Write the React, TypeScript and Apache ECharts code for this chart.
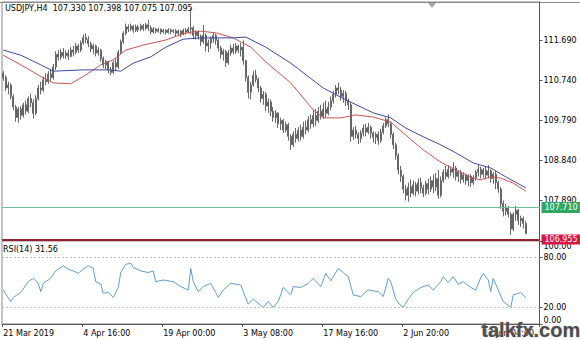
import React, { useEffect, useRef } from "react";
import * as echarts from "echarts";

// ---------- data ----------
const symbol = "USDJPY";
const timeframe = "H4";
const slotCount = 215; // bar slots on the time axis (last ones empty: chart shift)
const timeTickIndex = [0, 32, 64, 96, 128, 160, 192];
const timeTickLabels = [
  "21 Mar 2019",
  "4 Apr 16:00",
  "19 Apr 00:00",
  "3 May 08:00",
  "17 May 16:00",
  "2 Jun 20:00",
  "17 Jun 04:00",
];
const priceTicks = [111.69, 110.74, 109.79, 108.84, 107.89];
const priceLevels = [107.71, 106.955]; // [bid line, stop level]
const rsiTicks = [100, 80, 20, 0];
const rsiLevels = [80, 20];

// [open, close, low, high]
const candles: number[][] = [
  [110.90, 110.80, 110.72, 110.95],
  [110.80, 110.55, 110.48, 110.85],
  [110.55, 110.62, 110.40, 110.70],
  [110.62, 110.35, 110.28, 110.66],
  [110.35, 110.10, 110.02, 110.40],
  [110.10, 109.85, 109.75, 110.15],
  [109.85, 110.05, 109.72, 110.10],
  [110.05, 109.90, 109.80, 110.12],
  [109.90, 110.15, 109.85, 110.20],
  [110.15, 110.00, 109.92, 110.25],
  [110.00, 110.30, 109.95, 110.35],
  [110.30, 110.20, 110.10, 110.42],
  [110.20, 109.95, 109.82, 110.28],
  [109.95, 110.30, 109.90, 110.38],
  [110.30, 110.55, 110.25, 110.62],
  [110.55, 110.50, 110.40, 110.70],
  [110.50, 110.75, 110.45, 110.82],
  [110.75, 110.70, 110.62, 110.90],
  [110.70, 110.88, 110.65, 110.95],
  [110.88, 110.80, 110.72, 111.00],
  [110.80, 111.05, 110.75, 111.12],
  [111.05, 111.35, 110.98, 111.42],
  [111.35, 111.28, 111.20, 111.45],
  [111.28, 111.40, 111.22, 111.48],
  [111.40, 111.32, 111.25, 111.50],
  [111.32, 111.38, 111.24, 111.44],
  [111.38, 111.30, 111.22, 111.46],
  [111.30, 111.45, 111.28, 111.52],
  [111.45, 111.40, 111.30, 111.55],
  [111.40, 111.55, 111.35, 111.62],
  [111.55, 111.45, 111.38, 111.60],
  [111.45, 111.62, 111.40, 111.68],
  [111.62, 111.75, 111.58, 111.82],
  [111.75, 111.70, 111.62, 111.85],
  [111.70, 111.60, 111.52, 111.78],
  [111.60, 111.48, 111.40, 111.65],
  [111.48, 111.55, 111.35, 111.60],
  [111.55, 111.38, 111.30, 111.58],
  [111.38, 111.45, 111.32, 111.52],
  [111.45, 111.25, 111.18, 111.48],
  [111.25, 111.10, 111.02, 111.30],
  [111.10, 111.18, 111.00, 111.22],
  [111.18, 110.98, 110.90, 111.20],
  [110.98, 110.92, 110.85, 111.05],
  [110.92, 111.15, 110.88, 111.20],
  [111.15, 111.05, 110.95, 111.25],
  [111.05, 111.40, 111.00, 111.45],
  [111.40, 111.65, 111.35, 111.70],
  [111.65, 111.85, 111.60, 111.90],
  [111.85, 112.00, 111.80, 112.08],
  [112.00, 111.95, 111.88, 112.06],
  [111.95, 112.02, 111.90, 112.08],
  [112.02, 111.92, 111.86, 112.05],
  [111.92, 112.00, 111.88, 112.06],
  [112.00, 111.94, 111.88, 112.05],
  [111.94, 112.03, 111.90, 112.08],
  [112.03, 111.96, 111.90, 112.07],
  [111.96, 112.05, 111.92, 112.10],
  [112.05, 111.98, 111.90, 112.17],
  [111.98, 111.88, 111.82, 112.04],
  [111.88, 111.95, 111.84, 112.00],
  [111.95, 111.90, 111.84, 111.98],
  [111.90, 111.94, 111.86, 111.98],
  [111.94, 111.88, 111.82, 111.97],
  [111.88, 111.92, 111.84, 111.96],
  [111.92, 111.87, 111.82, 111.95],
  [111.87, 111.93, 111.84, 111.97],
  [111.93, 111.89, 111.83, 111.96],
  [111.89, 111.91, 111.85, 111.95],
  [111.91, 111.85, 111.78, 111.95],
  [111.85, 111.90, 111.78, 111.94],
  [111.90, 111.83, 111.76, 111.93],
  [111.83, 111.92, 111.80, 111.96],
  [111.92, 111.88, 111.82, 111.98],
  [111.88, 111.95, 111.84, 112.00],
  [111.95, 111.98, 111.82, 112.45],
  [111.98, 111.80, 111.72, 112.02],
  [111.80, 111.88, 111.70, 111.92],
  [111.88, 111.78, 111.70, 111.92],
  [111.78, 111.65, 111.55, 111.82],
  [111.65, 111.80, 111.60, 112.05],
  [111.80, 111.55, 111.42, 111.85],
  [111.55, 111.62, 111.40, 111.70],
  [111.62, 111.72, 111.48, 111.78],
  [111.72, 111.80, 111.62, 111.86],
  [111.80, 111.68, 111.58, 111.84],
  [111.68, 111.50, 111.42, 111.72],
  [111.50, 111.35, 111.25, 111.55],
  [111.35, 111.42, 111.20, 111.48],
  [111.42, 111.15, 111.05, 111.45],
  [111.15, 111.38, 111.10, 111.45],
  [111.38, 111.50, 111.32, 111.58],
  [111.50, 111.42, 111.35, 111.60],
  [111.42, 111.55, 111.36, 111.62],
  [111.55, 111.45, 111.38, 111.58],
  [111.45, 111.52, 111.30, 111.62],
  [111.52, 111.20, 111.10, 111.68],
  [111.20, 110.80, 110.70, 111.22],
  [110.80, 110.45, 110.30, 110.85],
  [110.45, 110.62, 110.28, 110.70],
  [110.62, 110.85, 110.58, 110.95],
  [110.85, 110.75, 110.68, 110.98],
  [110.75, 110.55, 110.45, 110.80],
  [110.55, 110.30, 110.20, 110.60],
  [110.30, 110.40, 110.15, 110.48],
  [110.40, 110.12, 110.00, 110.45],
  [110.12, 110.22, 109.96, 110.30],
  [110.22, 110.00, 109.88, 110.28],
  [110.00, 109.85, 109.75, 110.10],
  [109.85, 109.95, 109.72, 110.02],
  [109.95, 109.70, 109.60, 109.98],
  [109.70, 109.78, 109.55, 109.85],
  [109.78, 109.55, 109.48, 109.82],
  [109.55, 109.68, 109.50, 109.75],
  [109.68, 109.40, 109.30, 109.72],
  [109.40, 109.20, 109.08, 109.45],
  [109.20, 109.45, 109.15, 109.52],
  [109.45, 109.35, 109.25, 109.60],
  [109.35, 109.55, 109.28, 109.62],
  [109.55, 109.40, 109.30, 109.68],
  [109.40, 109.62, 109.35, 109.75],
  [109.62, 109.55, 109.45, 109.78],
  [109.55, 109.80, 109.50, 109.88],
  [109.80, 109.70, 109.58, 109.92],
  [109.70, 109.90, 109.62, 110.02],
  [109.90, 109.78, 109.65, 110.05],
  [109.78, 110.00, 109.72, 110.10],
  [110.00, 109.88, 109.80, 110.15],
  [109.88, 110.05, 109.82, 110.20],
  [110.05, 109.95, 109.85, 110.25],
  [109.95, 110.10, 109.90, 110.22],
  [110.10, 110.25, 110.02, 110.35],
  [110.25, 110.40, 110.18, 110.48],
  [110.40, 110.55, 110.32, 110.62],
  [110.55, 110.50, 110.40, 110.68],
  [110.50, 110.35, 110.25, 110.58],
  [110.35, 110.42, 110.20, 110.50],
  [110.42, 110.25, 110.12, 110.48],
  [110.25, 110.15, 110.03, 110.30],
  [110.15, 109.40, 109.27, 110.20],
  [109.40, 109.55, 109.32, 109.62],
  [109.55, 109.45, 109.35, 109.65],
  [109.45, 109.35, 109.22, 109.50],
  [109.35, 109.48, 109.25, 109.55],
  [109.48, 109.60, 109.40, 109.68],
  [109.60, 109.50, 109.40, 109.70],
  [109.50, 109.62, 109.45, 109.72],
  [109.62, 109.48, 109.35, 109.66],
  [109.48, 109.38, 109.25, 109.52],
  [109.38, 109.45, 109.22, 109.50],
  [109.45, 109.30, 109.20, 109.52],
  [109.30, 109.50, 109.25, 109.58],
  [109.50, 109.65, 109.45, 109.72],
  [109.65, 109.80, 109.60, 109.85],
  [109.80, 109.70, 109.62, 109.92],
  [109.70, 109.45, 109.35, 109.75],
  [109.45, 109.20, 109.10, 109.50],
  [109.20, 108.95, 108.85, 109.25],
  [108.95, 108.60, 108.50, 109.00],
  [108.60, 108.45, 108.32, 108.70],
  [108.45, 108.15, 108.05, 108.50],
  [108.15, 108.00, 107.88, 108.25],
  [108.00, 108.20, 107.85, 108.30],
  [108.20, 108.05, 107.95, 108.38],
  [108.05, 108.25, 108.00, 108.35],
  [108.25, 108.10, 107.98, 108.32],
  [108.10, 108.30, 108.02, 108.40],
  [108.30, 108.18, 108.05, 108.42],
  [108.18, 108.05, 107.96, 108.25],
  [108.05, 108.28, 108.00, 108.35],
  [108.28, 108.15, 108.02, 108.40],
  [108.15, 108.35, 108.08, 108.45],
  [108.35, 108.20, 108.05, 108.50],
  [108.20, 108.40, 108.10, 108.53],
  [108.40, 108.00, 107.92, 108.60],
  [108.00, 108.35, 107.95, 108.45],
  [108.35, 108.55, 108.30, 108.62],
  [108.55, 108.45, 108.38, 108.70],
  [108.45, 108.62, 108.40, 108.72],
  [108.62, 108.55, 108.45, 108.68],
  [108.55, 108.65, 108.42, 108.79],
  [108.65, 108.45, 108.35, 108.70],
  [108.45, 108.55, 108.32, 108.60],
  [108.55, 108.38, 108.28, 108.60],
  [108.38, 108.48, 108.30, 108.55],
  [108.48, 108.35, 108.25, 108.52],
  [108.35, 108.45, 108.22, 108.50],
  [108.45, 108.30, 108.20, 108.50],
  [108.30, 108.42, 108.25, 108.48],
  [108.42, 108.55, 108.35, 108.60],
  [108.55, 108.62, 108.45, 108.72],
  [108.62, 108.50, 108.40, 108.68],
  [108.50, 108.60, 108.42, 108.65],
  [108.60, 108.48, 108.38, 108.70],
  [108.48, 108.58, 108.40, 108.72],
  [108.58, 108.40, 108.30, 108.62],
  [108.40, 108.50, 108.28, 108.55],
  [108.50, 108.30, 108.15, 108.58],
  [108.30, 108.15, 108.06, 108.35],
  [108.15, 107.80, 107.68, 108.20],
  [107.80, 107.62, 107.50, 107.88],
  [107.62, 107.72, 107.52, 107.80],
  [107.72, 107.55, 107.48, 107.75],
  [107.55, 107.20, 107.06, 107.60],
  [107.20, 107.55, 107.15, 107.60],
  [107.55, 107.65, 107.40, 107.75],
  [107.65, 107.40, 107.30, 107.68],
  [107.40, 107.45, 107.25, 107.52],
  [107.45, 107.33, 107.22, 107.50],
  [107.33, 107.095, 107.075, 107.398],
];

// moving averages read at sample bars: [barIndex, value]
const maFast: number[][] = [
  [0, 111.33], [7, 111.10], [16, 110.79], [20, 110.67], [27, 110.65], [33, 110.86],
  [39, 111.10], [44, 111.22], [49, 111.45], [56, 111.57], [65, 111.69], [73, 111.86],
  [79, 111.90], [85, 111.86], [92, 111.74], [99, 111.52], [105, 111.17], [115, 110.67],
  [124, 110.03], [128, 109.84], [135, 109.84], [141, 109.91], [148, 109.86], [155, 109.74],
  [161, 109.43], [168, 109.08], [175, 108.79], [181, 108.60], [188, 108.41], [191, 108.37],
  [195, 108.44], [199, 108.41], [204, 108.29], [209, 108.10],
];
const maSlow: number[][] = [
  [0, 111.45], [7, 111.33], [15, 111.10], [20, 110.95], [32, 110.98], [43, 110.98],
  [47, 110.95], [52, 111.14], [59, 111.29], [65, 111.52], [72, 111.71], [79, 111.74],
  [92, 111.74], [97, 111.76], [105, 111.52], [115, 111.14], [128, 110.55], [137, 110.27],
  [148, 109.96], [155, 109.84], [161, 109.60], [168, 109.39], [175, 109.20], [181, 109.01],
  [188, 108.77], [195, 108.65], [201, 108.44], [209, 108.18],
];
// RSI(14) read at sample bars: [barIndex, value]
const rsi: number[][] = [
  [0, 41], [3, 27], [4, 32], [7, 38], [10, 51], [12, 55], [14, 49], [15, 39], [16, 49],
  [19, 55], [21, 64], [24, 70], [26, 66], [28, 64], [30, 61], [32, 66], [34, 70], [36, 67],
  [37, 51], [39, 48], [40, 37], [42, 38], [44, 32], [46, 44], [47, 62], [49, 72], [51, 73],
  [52, 68], [55, 64], [58, 62], [60, 64], [61, 51], [64, 53], [68, 51], [71, 45], [74, 41],
  [75, 67], [76, 51], [78, 39], [80, 45], [83, 49], [85, 38], [86, 32], [88, 41], [91, 49],
  [95, 47], [96, 39], [98, 24], [100, 30], [104, 20], [106, 27], [108, 20], [110, 27],
  [112, 44], [115, 35], [116, 45], [119, 44], [122, 49], [124, 55], [127, 45], [129, 61],
  [131, 52], [134, 67], [136, 62], [138, 57], [140, 35], [143, 33], [146, 41], [150, 39],
  [152, 33], [154, 55], [155, 51], [157, 30], [159, 22], [160, 20], [162, 30], [164, 38],
  [167, 44], [170, 47], [172, 41], [175, 51], [176, 57], [178, 50], [180, 57], [182, 48],
  [184, 51], [187, 44], [189, 41], [191, 56], [192, 61], [194, 53], [195, 39], [196, 55],
  [198, 41], [200, 27], [203, 20], [204, 35], [207, 38], [209, 31.56],
];

// ---------- chart ----------
const FONT = "DejaVu Sans";

export default function App() {
  const ref = useRef<HTMLDivElement>(null);

  useEffect(() => {
    if (!ref.current) return;
    const chart = echarts.init(ref.current, null, { renderer: "svg" });

    const categories = Array.from({ length: slotCount }, (_, i) => {
      const k = timeTickIndex.indexOf(i);
      return k >= 0 ? timeTickLabels[k] : "b" + i;
    });
    const isTick = (i: number) => timeTickIndex.indexOf(i) >= 0;
    const last = candles[candles.length - 1];
    const lastLabel = [last[0], last[3], last[2], last[1]].map((v) => v.toFixed(3)).join(" ");
    const lastRsi = rsi[rsi.length - 1][1];
    const rsiMax = Math.max(...rsiTicks);
    const rsiMin = Math.min(...rsiTicks);

    const option: any = {
      animation: false,
      backgroundColor: "#ffffff",
      textStyle: { fontFamily: FONT },
      grid: [
        { left: 2, right: 40.5, top: 2, height: 238, show: true, borderColor: "#8a8a8a", borderWidth: 1 },
        { left: 2, right: 40.5, top: 241, height: 83, show: true, borderColor: "#8a8a8a", borderWidth: 1 },
      ],
      xAxis: [
        {
          type: "category", gridIndex: 0, data: categories,
          axisLine: { show: false }, axisTick: { show: false }, axisLabel: { show: false },
          splitLine: { show: false },
        },
        {
          type: "category", gridIndex: 1, data: categories,
          axisLine: { show: true, lineStyle: { color: "#555555" } },
          axisTick: { show: true, length: 3, interval: (i: number) => isTick(i), lineStyle: { color: "#555555" } },
          axisLabel: {
            interval: (i: number) => isTick(i),
            formatter: (v: string) => v,
            align: "left", color: "#000000", fontSize: 8, fontFamily: FONT, margin: 5,
          },
          splitLine: { show: false },
        },
      ],
      yAxis: [
        {
          type: "value", gridIndex: 0, position: "right", min: 106.94, max: 112.5925,
          splitLine: { show: false },
          axisLine: { show: true, lineStyle: { color: "#555555" } },
          axisTick: { show: true, length: 3, customValues: priceTicks, lineStyle: { color: "#555555" } },
          axisLabel: {
            customValues: priceTicks, formatter: (v: number) => v.toFixed(3),
            color: "#000000", fontSize: 8, fontFamily: FONT, margin: 4,
          },
        },
        {
          type: "value", gridIndex: 1, position: "right", min: rsiMin, max: rsiMax,
          splitLine: { show: false },
          axisLine: { show: true, lineStyle: { color: "#555555" } },
          axisTick: { show: true, length: 3, customValues: rsiTicks, lineStyle: { color: "#555555" } },
          axisLabel: {
            customValues: rsiTicks, showMinLabel: true, showMaxLabel: true,
            formatter: (v: number) =>
              v === rsiMax ? `{top|${v.toFixed(2)}}` : v === rsiMin ? `{bot|${v.toFixed(2)}}` : v.toFixed(2),
            rich: {
              top: { padding: [11, 0, 0, 0], fontSize: 8, fontFamily: FONT, color: "#000000" },
              bot: { padding: [0, 0, 8, 0], fontSize: 8, fontFamily: FONT, color: "#000000" },
            },
            color: "#000000", fontSize: 8, fontFamily: FONT, margin: 4,
          },
        },
      ],
      series: [
        {
          type: "candlestick", xAxisIndex: 0, yAxisIndex: 0, data: candles,
          barWidth: 1.6, z: 2,
          itemStyle: { color: "#6c6c6c", color0: "#6c6c6c", borderColor: "#666666", borderColor0: "#666666", borderWidth: 1 },
          markLine: {
            silent: true, symbol: "none", animation: false, z: 5,
            data: [
              {
                yAxis: priceLevels[0],
                lineStyle: { color: "#6cc295", width: 1, type: "solid" },
                label: {
                  show: true, position: "end", distance: 2, formatter: () => priceLevels[0].toFixed(3),
                  color: "#ffffff", backgroundColor: "#2ea862", padding: [2, 3, 1, 3],
                  fontSize: 8, fontFamily: FONT,
                },
              },
              {
                yAxis: priceLevels[1],
                lineStyle: { color: "#9a1f30", width: 2, type: "solid" },
                label: {
                  show: true, position: "end", distance: 2, formatter: () => priceLevels[1].toFixed(3),
                  color: "#ffffff", backgroundColor: "#d8173f", padding: [1, 3, 1, 3],
                  fontSize: 8, fontFamily: FONT,
                },
              },
            ],
          },
        },
        {
          type: "line", xAxisIndex: 0, yAxisIndex: 0, data: maFast, showSymbol: false, z: 4,
          lineStyle: { color: "#c9544f", width: 1 }, itemStyle: { color: "#c9544f" },
        },
        {
          type: "line", xAxisIndex: 0, yAxisIndex: 0, data: maSlow, showSymbol: false, z: 4,
          lineStyle: { color: "#3c48a3", width: 1 }, itemStyle: { color: "#3c48a3" },
        },
        {
          type: "line", xAxisIndex: 1, yAxisIndex: 1, data: rsi, showSymbol: false, z: 4,
          lineStyle: { color: "#5d9fcf", width: 1 }, itemStyle: { color: "#5d9fcf" },
          markLine: {
            silent: true, symbol: "none", animation: false,
            label: { show: false },
            lineStyle: { color: "#bdbdbd", width: 1, type: [2, 2] },
            data: rsiLevels.map((v) => ({ yAxis: v })),
          },
        },
      ],
      graphic: [
        { type: "line", shape: { x1: 0, y1: 2.5, x2: 580, y2: 2.5 }, style: { stroke: "#8a8a8a", lineWidth: 1 }, silent: true },
        { type: "polygon", shape: { points: [[428, 3], [436, 3], [432, 8]] }, style: { fill: "#a6a6a6" }, silent: true },
        {
          type: "text", left: 5, top: 4, silent: true,
          style: { text: `${symbol},${timeframe}  ${lastLabel}`, fill: "#000000", font: `8px '${FONT}'` },
        },
        {
          type: "text", left: 3, top: 245, silent: true,
          style: { text: `RSI(14) ${lastRsi.toFixed(2)}`, fill: "#000000", font: `8px '${FONT}'` },
        },
        {
          type: "text", left: 481, top: 320, silent: true, z: 100,
          style: { text: "talkfx.com", fill: "#4e4e4e", stroke: "#bdbdbd", lineWidth: 0.6, font: "bold 20px 'Liberation Sans'" },
        },
      ],
    };

    chart.setOption(option);
    return () => chart.dispose();
  }, []);

  return (
    <div
      ref={ref}
      style={{ position: "fixed", left: 0, top: 0, width: 580, height: 340, background: "#fff" }}
    />
  );
}
